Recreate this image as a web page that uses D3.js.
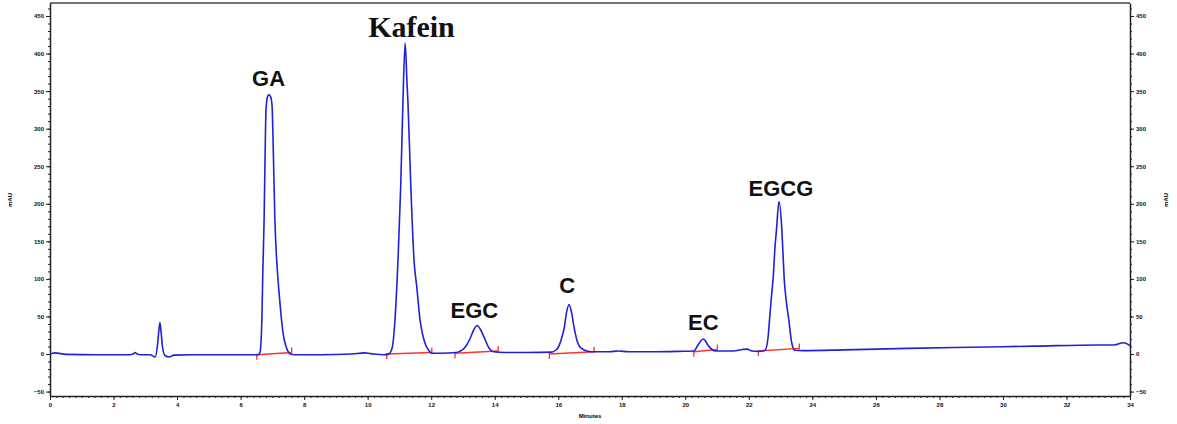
<!DOCTYPE html>
<html>
<head>
<meta charset="utf-8">
<script src="https://cdn.jsdelivr.net/npm/d3@7"></script>
<style>
  body { margin: 0; background: #fff; }
  svg { display: block; }
  .tick text { font-family: "Liberation Sans", Arial, sans-serif; font-weight: bold; font-size: 6px; fill: #111; }
  .domain, .tick line { stroke: #222; }
</style>
</head>
<body>
<div id="chart"></div>
<script>
// retention time (min) and detector signal (mAU)
const traceTime = [
  0.0, 0.15, 0.5, 1.5, 2.5, 2.62, 2.68, 2.74, 2.85, 3.15, 3.31, 3.38, 3.42, 3.46, 3.50, 3.54, 3.62, 3.75, 3.90,
  4.5, 5.5, 6.3, 6.55, 6.61, 6.67, 6.70, 6.74, 6.77, 6.80, 6.85, 6.89, 6.94, 6.99, 7.03, 7.08, 7.13, 7.18, 7.24,
  7.29, 7.36, 7.43, 7.50, 7.56, 7.7, 8.5, 9.5, 9.9, 10.1, 10.5, 10.65, 10.77, 10.86, 10.96, 11.04, 11.11, 11.18,
  11.24, 11.27, 11.36, 11.46, 11.55, 11.65, 11.73, 11.81, 11.92, 12.02, 12.3, 12.78, 12.9, 13.0, 13.1, 13.22,
  13.35, 13.45, 13.56, 13.69, 13.82, 13.96, 14.3, 15.0, 15.79, 15.92, 15.99, 16.10, 16.19, 16.26, 16.34, 16.42,
  16.50, 16.59, 16.67, 16.75, 16.9, 17.05, 17.6, 17.9, 18.2, 19.0, 19.8, 20.27, 20.40, 20.50, 20.57, 20.64,
  20.71, 20.84, 20.97, 21.5, 21.8, 21.95, 22.1, 22.3, 22.51, 22.60, 22.65, 22.72, 22.77, 22.82, 22.87, 22.95,
  23.04, 23.08, 23.11, 23.18, 23.26, 23.35, 23.45, 23.7, 25.0, 27.0, 29.0, 31.0, 33.0, 33.5, 33.8, 34.0
];
const traceMAU = [
  -0.5, 1.5, -0.5, -1, -1, 0, 2, 0, -1, -1, -4, 10, 28, 42, 28, 10, -2, -4, -1.5,
  -1, -1, -1, -1, 2, 45, 110, 178, 260, 325, 343, 345, 343, 331, 270, 178, 130, 98, 68,
  45, 22, 10, 3, 0, -1, -1, 0, 1.5, 0.5, -1, -0.5, 8, 45, 130, 222, 334, 414,
  360, 334, 222, 125, 88, 45, 26, 14, 5, 1, 1, 2, 3.5, 6, 11, 20,
  33, 38, 32, 20, 8, 3, 2, 2, 2.5, 5, 8, 20, 35, 55, 66, 55,
  35, 18, 10, 7, 4, 3, 3, 4, 3, 3, 3.5, 4, 12, 18, 20, 17,
  12, 6, 4, 4, 6, 6.5, 4, 3.5, 5, 20, 45, 80, 103, 140, 165, 203,
  165, 130, 103, 70, 45, 15, 5, 4.5, 5.5, 7.5, 9, 10.5, 12, 12, 15, 11
];

// integration baselines: start time, start mAU, end time, end mAU
const peakNames = ["GA", "Kafein", "EGC", "C", "EC", "EGCG"];
const intStart = [6.51, 10.60, 12.75, 15.72, 20.27, 22.30];
const intStartVal = [-1, 0, 1, 0, 3, 4];
const intEnd = [7.61, 12.02, 14.11, 17.13, 21.01, 23.59];
const intEndVal = [2, 2, 4, 3, 6, 7.5];
// peak label anchors (time, mAU of label baseline)
const labelTime = [6.88, 11.38, 13.36, 16.28, 20.57, 23.01];
const labelMAU = [357, 422, 48, 81, 32, 210];

const xTicks = d3.range(0, 35, 2);
const yTicks = d3.range(-50, 451, 50);

const W = 1177, H = 424;
const svg = d3.select("#chart").append("svg").attr("width", W).attr("height", H);

const x = d3.scaleLinear().domain([0, 34]).range([50, 1130]);
const y = d3.scaleLinear().domain([-55.9, 467.3]).range([396, 3]);

// frame top
svg.append("line")
  .attr("x1", 50).attr("x2", 1130).attr("y1", 3).attr("y2", 3)
  .attr("stroke", "#444").attr("stroke-width", 1.5);

// minor ticks
svg.append("g").attr("transform", "translate(0,396)")
  .call(d3.axisBottom(x).tickValues(d3.range(0, 34.01, 0.2)).tickSize(2).tickFormat(""))
  .call(g => g.select(".domain").remove());
svg.append("g").attr("transform", "translate(50,0)")
  .call(d3.axisLeft(y).tickValues(d3.range(-50, 461, 10)).tickSize(2).tickFormat(""))
  .call(g => g.select(".domain").remove());
svg.append("g").attr("transform", "translate(1130,0)")
  .call(d3.axisRight(y).tickValues(d3.range(-50, 461, 10)).tickSize(2).tickFormat(""))
  .call(g => g.select(".domain").remove());

// major axes
svg.append("g").attr("transform", "translate(0,396)")
  .call(d3.axisBottom(x).tickValues(xTicks).tickSize(4).tickPadding(3).tickSizeOuter(0));
svg.append("g").attr("transform", "translate(50,0)")
  .call(d3.axisLeft(y).tickValues(yTicks).tickSize(4).tickPadding(2).tickSizeOuter(0));
svg.append("g").attr("transform", "translate(1130,0)")
  .call(d3.axisRight(y).tickValues(yTicks).tickSize(4).tickPadding(2).tickSizeOuter(0));
svg.selectAll(".domain").attr("stroke-width", 1.5);

// axis titles
svg.append("text").attr("x", 590).attr("y", 418).attr("text-anchor", "middle")
  .attr("font-family", "Liberation Sans, Arial, sans-serif").attr("font-weight", "bold")
  .attr("font-size", 6).text("Minutes");
[12, 1168].forEach(cx => {
  svg.append("text").attr("transform", "translate(" + cx + ",200) rotate(-90)")
    .attr("text-anchor", "middle")
    .attr("font-family", "Liberation Sans, Arial, sans-serif").attr("font-weight", "bold")
    .attr("font-size", 6).text("mAU");
});

// integration baselines
const red = "#ff3030";
peakNames.forEach((name, i) => {
  const x0 = x(intStart[i]), y0 = y(intStartVal[i]);
  const x1 = x(intEnd[i]), y1 = y(intEndVal[i]);
  svg.append("line").attr("x1", x0).attr("y1", y0).attr("x2", x1).attr("y2", y1)
    .attr("stroke", red).attr("stroke-width", 1.3);
  svg.append("line").attr("x1", x0).attr("y1", y0 - 1).attr("x2", x0).attr("y2", y0 + 5)
    .attr("stroke", red).attr("stroke-width", 1.3);
  svg.append("line").attr("x1", x1).attr("y1", y1 + 1).attr("x2", x1).attr("y2", y1 - 5)
    .attr("stroke", red).attr("stroke-width", 1.3);
});

// chromatogram trace
const pts = traceTime.map((t, i) => [t, traceMAU[i]]);
const line = d3.line().x(d => x(d[0])).y(d => y(d[1])).curve(d3.curveMonotoneX);
svg.append("path").datum(pts)
  .attr("d", line)
  .attr("fill", "none")
  .attr("stroke", "#2020d8")
  .attr("stroke-width", 1.6)
  .attr("stroke-linejoin", "round");

// peak labels
peakNames.forEach((name, i) => {
  const isKafein = name === "Kafein";
  svg.append("text")
    .attr("x", x(labelTime[i])).attr("y", y(labelMAU[i]))
    .attr("text-anchor", "middle")
    .attr("font-family", isKafein ? "Liberation Serif, Times New Roman, serif" : "Liberation Sans, Arial, sans-serif")
    .attr("font-weight", "bold")
    .attr("font-size", isKafein ? 30 : 22)
    .attr("fill", "#111")
    .text(name);
});
</script>
</body>
</html>
